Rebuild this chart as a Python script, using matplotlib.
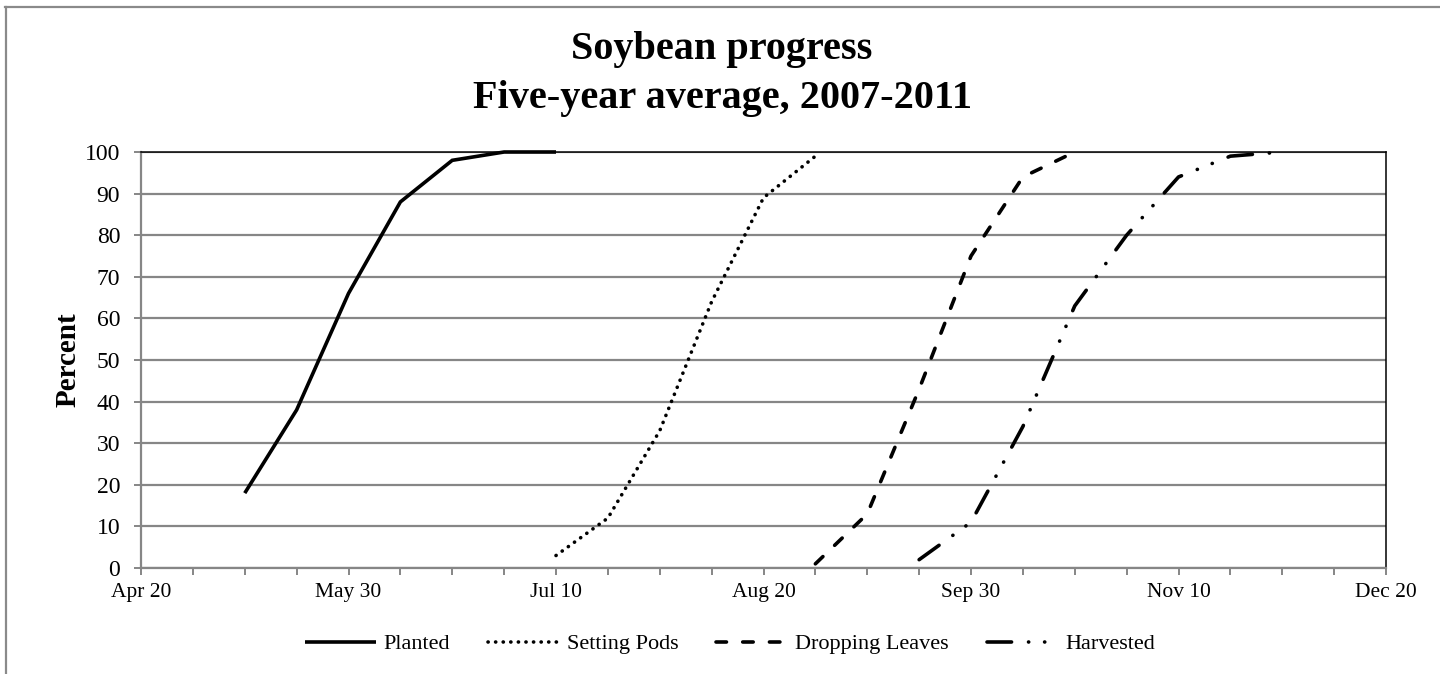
import matplotlib
matplotlib.use("Agg")
import matplotlib.pyplot as plt
from matplotlib.lines import Line2D

plt.rcParams["font.family"] = ["Liberation Serif", "DejaVu Serif"]

# Time axis: 24 equal reporting slots from Apr 20 to Dec 20
axis_labels = ["Apr 20", "May 30", "Jul 10", "Aug 20", "Sep 30", "Nov 10", "Dec 20"]
n_slots = 24

# Cumulative percent of crop reaching each stage, by slot
planted_slot = [2, 3, 4, 5, 6, 7, 8]
planted = [18, 38, 66, 88, 98, 100, 100]

pods_slot = [8, 9, 10, 11, 12, 13]
setting_pods = [3, 12, 33, 64, 89, 99]

leaves_slot = [13, 14, 15, 16, 17, 18]
dropping_leaves = [1, 13, 43, 75, 94, 100]

harvest_slot = [15, 16, 17, 18, 19, 20, 21, 22]
harvested = [2, 11, 34, 63, 80, 94, 99, 100]

series_names = ["Planted", "Setting Pods", "Dropping Leaves", "Harvested"]

GRID = "#868686"
LW = 2.6

fig = plt.figure(figsize=(14.4, 6.74), dpi=100)
ax = fig.add_axes([141 / 1440, 1 - 568 / 674, (1386 - 141) / 1440, (568 - 152) / 674])

styles = [
    dict(linestyle="-", solid_capstyle="butt"),
    dict(linestyle=(0, (0.05, 2.05)), dash_capstyle="round"),
    dict(linestyle=(0, (2.9, 4.5)), dash_capstyle="round"),
    dict(linestyle=(0, (6.8, 4.7, 0.05, 4.4, 0.05, 4.7)), dash_capstyle="round"),
]
data = [
    (planted_slot, planted),
    (pods_slot, setting_pods),
    (leaves_slot, dropping_leaves),
    (harvest_slot, harvested),
]

handles = []
for (xs, ys), st, name in zip(data, styles, series_names):
    (ln,) = ax.plot(xs, ys, color="black", lw=LW, clip_on=False, zorder=3,
                    label=name, solid_joinstyle="miter", **st)
    handles.append(ln)

ax.set_xlim(0, n_slots)
ax.set_ylim(0, 100)

ax.set_yticks(range(0, 101, 10))
ax.yaxis.grid(True, color=GRID, lw=1.6)
ax.set_axisbelow(True)

ax.set_xticks(range(0, n_slots + 1, 4))
ax.set_xticklabels(axis_labels)
ax.set_xticks(range(0, n_slots + 1), minor=True)

ax.tick_params(axis="both", which="both", direction="out", color=GRID, width=1.4)
ax.tick_params(axis="y", length=5, pad=10, labelsize=17)
ax.tick_params(axis="x", which="both", length=5, pad=6, labelsize=15.5)

for side in ("left", "bottom"):
    ax.spines[side].set_color(GRID)
    ax.spines[side].set_linewidth(1.6)
for side in ("top", "right"):
    ax.spines[side].set_color("black")
    ax.spines[side].set_linewidth(1.1)

ax.set_ylabel("Percent", fontsize=21, fontweight="bold", labelpad=2)

fig.text(0.5015, 1 - 74 / 674, "Soybean progress\nFive-year average, 2007-2011",
         ha="center", va="center", fontsize=29, fontweight="bold", linespacing=1.45)

fig.legend(handles=handles, loc="center", bbox_to_anchor=(0.507, 1 - 644 / 674),
           ncol=4, frameon=False, fontsize=16, handlelength=3.2,
           handletextpad=0.35, columnspacing=1.7)

# Outer chart frame (top and left edges)
fig.add_artist(Line2D([6 / 1440, 6 / 1440], [0, 1 - 7 / 674], transform=fig.transFigure,
                      color="#8a8a8a", lw=1.6))
fig.add_artist(Line2D([5 / 1440, 1], [1 - 7 / 674, 1 - 7 / 674], transform=fig.transFigure,
                      color="#8a8a8a", lw=1.6))

fig.savefig("out.png", dpi=100, facecolor="white")
